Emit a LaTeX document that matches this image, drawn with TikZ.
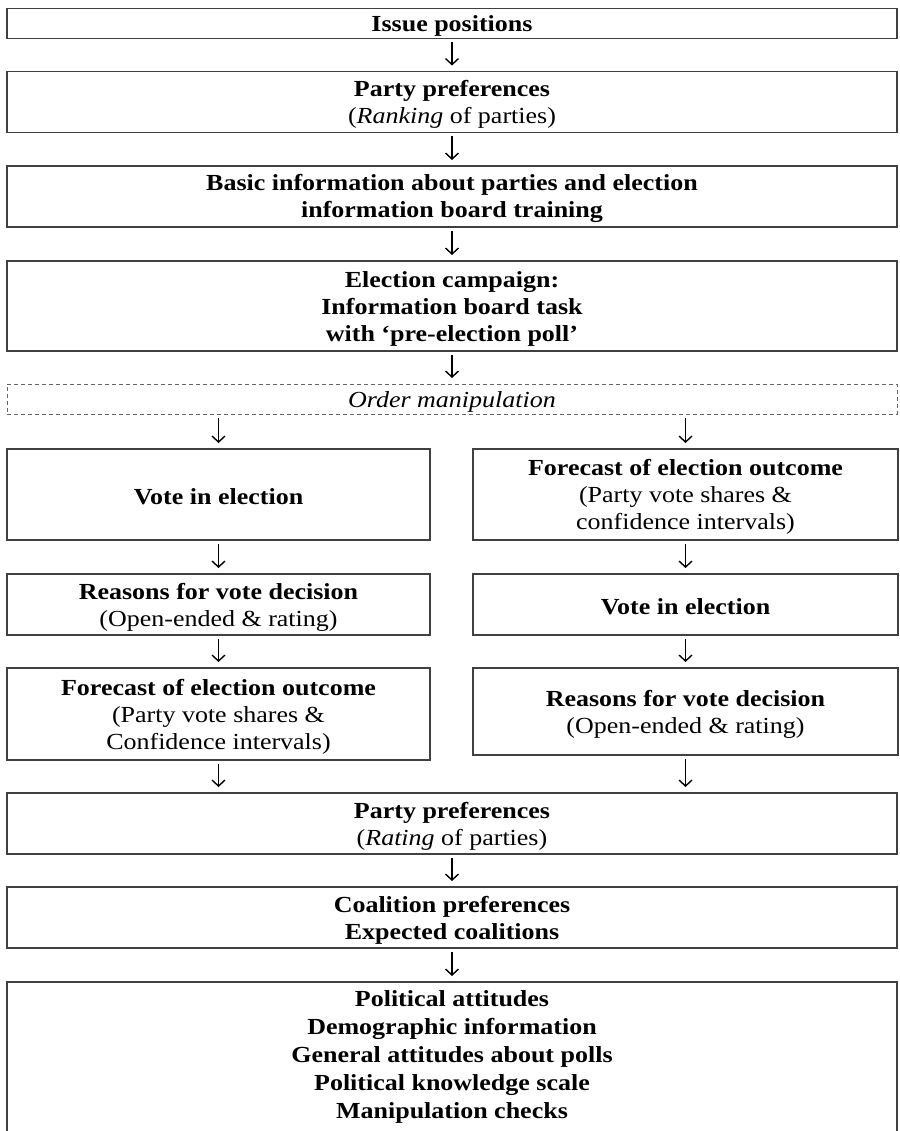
\documentclass[tikz,border=0pt]{standalone}
\usepackage{fontspec}
\setmainfont{Liberation Serif}[FakeStretch=1.13]
\usetikzlibrary{arrows.meta}
\newcommand{\fs}{\rule{0pt}{21pt}}
\tikzset{
  box/.style={draw=black!75, line width=1.2pt, rectangle, inner sep=0pt, outer sep=0pt, align=center,
    font=\fontsize{23}{27}\selectfont},
  dbox/.style={draw=black!60, line width=1pt, dash pattern=on 4pt off 3pt, rectangle, inner sep=0pt, outer sep=0pt,
    font=\fontsize{23}{27}\selectfont\itshape},
  txt/.style={inner sep=0pt, align=center, font=\fontsize{23}{28}\selectfont},
  arr/.style={line width=1.4pt, -{Straight Barb[length=6pt,width=13pt]}, shorten <=4pt, shorten >=6pt},
  wide/.style={minimum width=890pt},
  half/.style={minimum width=423pt},
}
\begin{document}
\begin{tikzpicture}[x=1pt,y=-1pt]
\useasboundingbox (0,0) rectangle (899,1131);
\node[box,wide,minimum height=30pt] (b1) at (452,23.5) {\fs\textbf{Issue positions}};
\node[box,wide,minimum height=61pt] (b2) at (452,102) {\fs\textbf{Party preferences}\\(\textit{Ranking} of parties)};
\node[box,wide,minimum height=61pt] (b3) at (452,196.5) {\fs\textbf{Basic information about parties and election}\\\textbf{information board training}};
\node[box,wide,minimum height=90pt] (b4) at (452,306) {\fs\textbf{Election campaign:}\\\textbf{Information board task}\\\textbf{with `pre-election poll'}};
\node[dbox,wide,minimum height=30pt] (om) at (452,399) {\fs Order manipulation};
\node[box,half,minimum height=91pt] (a1) at (218.5,494.5) {\fs\textbf{Vote in election}};
\node[box,minimum width=425pt,minimum height=91pt] (c1) at (685.5,494.5) {\fs\textbf{Forecast of election outcome}\\(Party vote shares \&\\confidence intervals)};
\node[box,half,minimum height=61pt] (a2) at (218.5,604.5) {\fs\textbf{Reasons for vote decision}\\(Open-ended \& rating)};
\node[box,minimum width=425pt,minimum height=61pt] (c2) at (685.5,604.5) {\fs\textbf{Vote in election}};
\node[box,half,minimum height=92pt] (a3) at (218.5,714) {\fs\textbf{Forecast of election outcome}\\(Party vote shares \&\\Confidence intervals)};
\node[box,minimum width=425pt,minimum height=87pt] (c3) at (685.5,711.5) {\fs\textbf{Reasons for vote decision}\\(Open-ended \& rating)};
\node[box,wide,minimum height=61pt] (b5) at (452,823.5) {\fs\textbf{Party preferences}\\(\textit{Rating} of parties)};
\node[box,wide,minimum height=61pt] (b6) at (452,917.5) {\fs\textbf{Coalition preferences}\\\textbf{Expected coalitions}};
\node[box,wide,minimum height=160pt,anchor=north] (b7) at (452,982) {};
\node[txt] (t7) at (452,1054) {\fs\textbf{Political attitudes}\\\textbf{Demographic information}\\\textbf{General attitudes about polls}\\\textbf{Political knowledge scale}\\\textbf{Manipulation checks}};
\draw[arr] (b1) -- (b2);
\draw[arr] (b2) -- (b3);
\draw[arr] (b3) -- (b4);
\draw[arr] (b4) -- (om);
\draw[arr] (a1.north |- om.south) -- (a1.north);
\draw[arr] (c1.north |- om.south) -- (c1.north);
\draw[arr] (a1) -- (a2);
\draw[arr] (c1) -- (c2);
\draw[arr] (a2) -- (a3);
\draw[arr] (c2) -- (c3);
\draw[arr] (a3.south) -- (a3.south |- b5.north);
\draw[arr] (c3.south) -- (c3.south |- b5.north);
\draw[arr] (b5) -- (b6);
\draw[arr] (b6) -- (b7);
\end{tikzpicture}
\end{document}
